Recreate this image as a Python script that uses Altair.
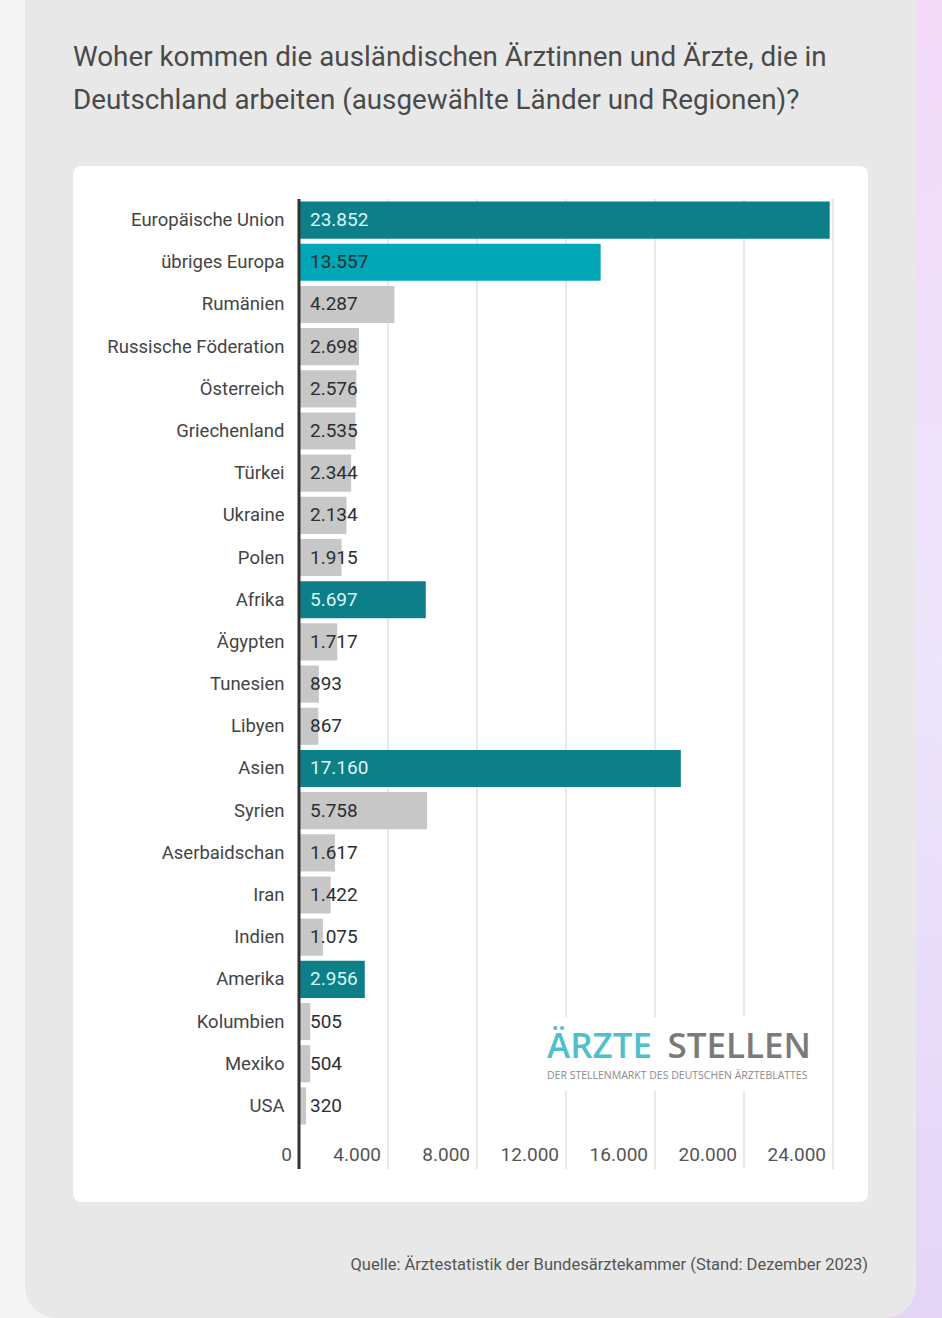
import altair as alt
import pandas as pd

# ---------------- data ----------------
names = [
    "Europäische Union", "übriges Europa", "Rumänien", "Russische Föderation",
    "Österreich", "Griechenland", "Türkei", "Ukraine", "Polen", "Afrika",
    "Ägypten", "Tunesien", "Libyen", "Asien", "Syrien", "Aserbaidschan",
    "Iran", "Indien", "Amerika", "Kolumbien", "Mexiko", "USA",
]
values = [
    23852, 13557, 4287, 2698, 2576, 2535, 2344, 2134, 1915, 5697,
    1717, 893, 867, 17160, 5758, 1617, 1422, 1075, 2956, 505, 504, 320,
]
kinds = [
    "region", "europe", "country", "country", "country", "country", "country",
    "country", "country", "region", "country", "country", "country", "region",
    "country", "country", "country", "country", "region", "country", "country",
    "country",
]
tick_values = [0, 4000, 8000, 12000, 16000, 20000, 24000]
tick_labels = ["0", "4.000", "8.000", "12.000", "16.000", "20.000", "24.000"]

title_text = ("Woher kommen die ausländischen Ärztinnen und Ärzte, die in\n"
              "Deutschland arbeiten (ausgewählte Länder und Regionen)?")
source_text = "Quelle: Ärztestatistik der Bundesärztekammer (Stand: Dezember 2023)"

df = pd.DataFrame({
    "name": names,
    "value": values,
    "kind": kinds,
    "label": [f"{v:,}".replace(",", ".") for v in values],
})
ticks_df = pd.DataFrame({"value": tick_values, "label": tick_labels})

FONT = "Roboto, Liberation Sans, sans-serif"
LOGO_FONT = "Open Sans, Lato, sans-serif"

W, H = 534, 928

xscale = alt.Scale(domain=[0, 24000], nice=False, zero=True)
yscale = alt.Scale(domain=names, paddingInner=0.12, paddingOuter=0.06)


def deco():
    return alt.Chart(alt.Data(values=[{"a": 1}]))


# ---------------- background decorations ----------------
strip = deco().mark_rect(
    color=alt.Gradient(
        gradient="linear",
        stops=[alt.GradientStop(color="#f3daf8", offset=0),
               alt.GradientStop(color="#ede5fb", offset=0.5),
               alt.GradientStop(color="#e4d5f7", offset=1)],
        x1=0, x2=0, y1=0, y2=1,
    )
).encode(x=alt.value(581), x2=alt.value(643), y=alt.value(-199), y2=alt.value(1119))

card = deco().mark_rect(color="#e8e8e8", cornerRadius=32).encode(
    x=alt.value(-274), x2=alt.value(617), y=alt.value(-260), y2=alt.value(1119)
)

panel = deco().mark_rect(color="#ffffff", cornerRadius=8).encode(
    x=alt.value(-226), x2=alt.value(569), y=alt.value(-33), y2=alt.value(1003)
)

title = deco().mark_text(
    font=FONT, fontSize=27.8, color="#4a4a4a", align="left", baseline="alphabetic",
    lineBreak="\n", lineHeight=43,
).encode(x=alt.value(-226), y=alt.value(-133), text=alt.value(title_text))

source = deco().mark_text(
    font=FONT, fontSize=16.5, color="#555555", align="right", baseline="middle"
).encode(x=alt.value(569), y=alt.value(1066), text=alt.value(source_text))

# ---------------- grid & axis ----------------
grid = alt.Chart(ticks_df).transform_filter("datum.value > 0").mark_rule(
    color="#dedede", strokeWidth=1.3
).encode(
    x=alt.X("value:Q", scale=xscale, axis=None),
    y=alt.value(0), y2=alt.value(970),
)

tick_text = alt.Chart(ticks_df).mark_text(
    font=FONT, fontSize=19, color="#555555", align="right", baseline="middle", dx=-7
).encode(
    x=alt.X("value:Q", scale=xscale, axis=None),
    y=alt.value(956),
    text="label:N",
)

# ---------------- bars ----------------
bars = alt.Chart(df).mark_bar().encode(
    x=alt.X("value:Q", scale=xscale, axis=None),
    y=alt.Y("name:N", scale=yscale, sort=names,
            axis=alt.Axis(title=None, domain=False, ticks=False, zindex=2,
                          labelFont=FONT, labelFontSize=18.5, labelColor="#444444",
                          labelPadding=15, labelLimit=300)),
    color=alt.Color("kind:N",
                    scale=alt.Scale(domain=["region", "europe", "country"],
                                    range=["#0c7f88", "#00a6b6", "#c7c7c7"]),
                    legend=None),
)

value_text = alt.Chart(df).mark_text(
    font=FONT, fontSize=19, align="left", baseline="middle"
).encode(
    x=alt.value(11),
    y=alt.Y("name:N", scale=yscale, sort=names),
    text="label:N",
    color=alt.condition("datum.kind == 'region'", alt.value("#dcf6f6"),
                        alt.value("#2a2f33")),
)

zero_line = deco().mark_rule(color="#333333", strokeWidth=3).encode(
    x=alt.value(0), y=alt.value(0), y2=alt.value(970)
)

# ---------------- logo ----------------
logo_bg = deco().mark_rect(color="#ffffff").encode(
    x=alt.value(241), x2=alt.value(523), y=alt.value(818), y2=alt.value(892)
)
logo_a = deco().mark_text(
    font=LOGO_FONT, fontSize=35, fontWeight=600, color="#4fbfcd",
    align="left", baseline="alphabetic"
).encode(x=alt.value(248), y=alt.value(859), text=alt.value("ÄRZTE"))
logo_b = deco().mark_text(
    font=LOGO_FONT, fontSize=35, fontWeight=600, color="#7a7a7a",
    align="right", baseline="alphabetic"
).encode(x=alt.value(512), y=alt.value(859), text=alt.value("STELLEN"))
logo_sub = deco().mark_text(
    font=LOGO_FONT, fontSize=10.5, color="#8a8a8a", align="left", baseline="middle"
).encode(x=alt.value(248), y=alt.value(877),
         text=alt.value("DER STELLENMARKT DES DEUTSCHEN ÄRZTEBLATTES"))

chart = alt.layer(
    strip, card, panel, title, source,
    grid, bars, value_text, tick_text, zero_line,
    logo_bg, logo_a, logo_b, logo_sub,
).properties(
    width=W, height=H,
    autosize="none",
    padding={"left": 299, "top": 199, "right": 109, "bottom": 191},
    background="#f4f4f4",
).configure_view(stroke=None)

chart.save("out.html", embed_options={"renderer": "svg", "actions": False})
